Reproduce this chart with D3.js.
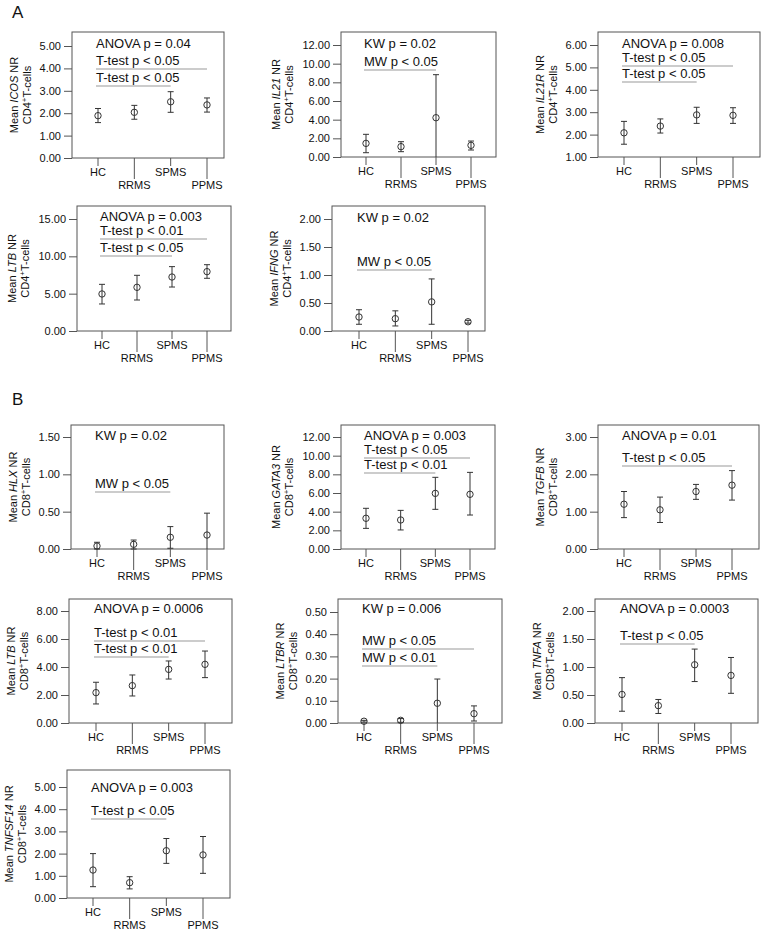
<!DOCTYPE html>
<html>
<head>
<meta charset="utf-8">
<script src="https://cdn.jsdelivr.net/npm/d3@7"></script>
<style>
body { margin: 0; background: #fff; }
text { font-family: "Liberation Sans", Arial, sans-serif; fill: #111; }
</style>
</head>
<body>
<svg id="chart" width="764" height="933"></svg>
<script>
var groups = ["HC", "RRMS", "SPMS", "PPMS"];

// means and error bar ends
var icosMean = [1.89, 2.04, 2.51, 2.37], icosLo = [1.58, 1.73, 2.04, 2.05], icosHi = [2.21, 2.35, 2.96, 2.68];
var il21Mean = [1.46, 1.11, 4.21, 1.25], il21Lo = [0.46, 0.57, -0.4, 0.75], il21Hi = [2.43, 1.64, 8.82, 1.71];
var il21rMean = [2.08, 2.38, 2.88, 2.86], il21rLo = [1.57, 2.07, 2.50, 2.50], il21rHi = [2.59, 2.70, 3.22, 3.20];
var ltb4Mean = [4.96, 5.85, 7.23, 7.95], ltb4Lo = [3.62, 4.15, 5.89, 7.06], ltb4Hi = [6.25, 7.46, 8.62, 8.88];
var ifngMean = [0.25, 0.22, 0.52, 0.165], ifngLo = [0.12, 0.09, 0.12, 0.14], ifngHi = [0.38, 0.36, 0.93, 0.19];
var hlxMean = [0.04, 0.063, 0.157, 0.187], hlxLo = [0.0, 0.0, 0.01, -0.1], hlxHi = [0.09, 0.12, 0.30, 0.48];
var gata3Mean = [3.29, 3.11, 5.96, 5.86], gata3Lo = [2.21, 2.04, 4.25, 3.64], gata3Hi = [4.36, 4.14, 7.68, 8.21];
var tgfbMean = [1.20, 1.05, 1.54, 1.71], tgfbLo = [0.84, 0.71, 1.33, 1.31], tgfbHi = [1.54, 1.39, 1.73, 2.10];
var ltb8Mean = [2.17, 2.67, 3.83, 4.19], ltb8Lo = [1.36, 1.93, 3.14, 3.24], ltb8Hi = [2.91, 3.43, 4.43, 5.14];
var ltbrMean = [0.008, 0.012, 0.089, 0.042], ltbrLo = [0.004, 0.003, -0.02, 0.009], ltbrHi = [0.012, 0.02, 0.198, 0.077];
var tnfaMean = [0.51, 0.31, 1.04, 0.85], tnfaLo = [0.21, 0.17, 0.74, 0.53], tnfaHi = [0.81, 0.42, 1.32, 1.17];
var tnfsf14Mean = [1.26, 0.69, 2.13, 1.94], tnfsf14Lo = [0.51, 0.41, 1.56, 1.11], tnfsf14Hi = [2.00, 0.96, 2.68, 2.77];

// y tick values
var icosTicks = [0, 1, 2, 3, 4, 5];
var il21Ticks = [0, 2, 4, 6, 8, 10, 12];
var il21rTicks = [1, 2, 3, 4, 5, 6];
var ltb4Ticks = [0, 5, 10, 15];
var ifngTicks = [0, 0.5, 1, 1.5, 2];
var hlxTicks = [0, 0.5, 1, 1.5];
var gata3Ticks = [0, 2, 4, 6, 8, 10, 12];
var tgfbTicks = [0, 1, 2, 3];
var ltb8Ticks = [0, 2, 4, 6, 8];
var ltbrTicks = [0, 0.1, 0.2, 0.3, 0.4, 0.5];
var tnfaTicks = [0, 0.5, 1, 1.5, 2];
var tnfsf14Ticks = [0, 1, 2, 3, 4, 5];

// test annotations: text, index of group the bar from HC reaches (null = no bar)
var icosTests = [["ANOVA p = 0.04", null], ["T-test p < 0.05", 3], ["T-test p < 0.05", 2]];
var il21Tests = [["KW p = 0.02", null], ["MW p < 0.05", 2]];
var il21rTests = [["ANOVA p = 0.008", null], ["T-test p < 0.05", 3], ["T-test p < 0.05", 2]];
var ltb4Tests = [["ANOVA p = 0.003", null], ["T-test p < 0.01", 3], ["T-test p < 0.05", 2]];
var ifngTests = [["KW p = 0.02", null], ["MW p < 0.05", 2]];
var hlxTests = [["KW p = 0.02", null], ["MW p < 0.05", 2]];
var gata3Tests = [["ANOVA p = 0.003", null], ["T-test p < 0.05", 3], ["T-test p < 0.01", 2]];
var tgfbTests = [["ANOVA p = 0.01", null], ["T-test p < 0.05", 3]];
var ltb8Tests = [["ANOVA p = 0.0006", null], ["T-test p < 0.01", 3], ["T-test p < 0.01", 2]];
var ltbrTests = [["KW p = 0.006", null], ["MW p < 0.05", 3], ["MW p < 0.01", 2]];
var tnfaTests = [["ANOVA p = 0.0003", null], ["T-test p < 0.05", 2]];
var tnfsf14Tests = [["ANOVA p = 0.003", null], ["T-test p < 0.05", 2]];

var panels = [
	{gene: "ICOS", cell: "CD4", mean: icosMean, lo: icosLo, hi: icosHi, ticks: icosTicks, tests: icosTests},
	{gene: "IL21", cell: "CD4", mean: il21Mean, lo: il21Lo, hi: il21Hi, ticks: il21Ticks, tests: il21Tests},
	{gene: "IL21R", cell: "CD4", mean: il21rMean, lo: il21rLo, hi: il21rHi, ticks: il21rTicks, tests: il21rTests},
	{gene: "LTB", cell: "CD4", mean: ltb4Mean, lo: ltb4Lo, hi: ltb4Hi, ticks: ltb4Ticks, tests: ltb4Tests},
	{gene: "IFNG", cell: "CD4", mean: ifngMean, lo: ifngLo, hi: ifngHi, ticks: ifngTicks, tests: ifngTests},
	{gene: "HLX", cell: "CD8", mean: hlxMean, lo: hlxLo, hi: hlxHi, ticks: hlxTicks, tests: hlxTests},
	{gene: "GATA3", cell: "CD8", mean: gata3Mean, lo: gata3Lo, hi: gata3Hi, ticks: gata3Ticks, tests: gata3Tests},
	{gene: "TGFB", cell: "CD8", mean: tgfbMean, lo: tgfbLo, hi: tgfbHi, ticks: tgfbTicks, tests: tgfbTests},
	{gene: "LTB", cell: "CD8", mean: ltb8Mean, lo: ltb8Lo, hi: ltb8Hi, ticks: ltb8Ticks, tests: ltb8Tests},
	{gene: "LTBR", cell: "CD8", mean: ltbrMean, lo: ltbrLo, hi: ltbrHi, ticks: ltbrTicks, tests: ltbrTests},
	{gene: "TNFA", cell: "CD8", mean: tnfaMean, lo: tnfaLo, hi: tnfaHi, ticks: tnfaTicks, tests: tnfaTests},
	{gene: "TNFSF14", cell: "CD8", mean: tnfsf14Mean, lo: tnfsf14Lo, hi: tnfsf14Hi, ticks: tnfsf14Ticks, tests: tnfsf14Tests}
];

// layout: box left, top, right, bottom, x of HC, x of PPMS, y of top tick
var boxes = [
	[72, 32, 224, 158, 98, 207, 46],
	[341, 32, 496, 157, 366, 471, 45],
	[598, 32, 760, 157, 624, 733, 45],
	[77, 206, 231, 331, 102, 207, 219],
	[332, 206, 485, 331, 359, 468, 219],
	[71, 425, 224, 549, 97, 207, 437],
	[341, 425, 495, 549, 366, 470, 437],
	[598, 425, 759, 549, 624, 732, 437],
	[69, 599, 232, 723, 96, 205, 611],
	[338, 599, 502, 723, 364, 474, 612],
	[595, 599, 758, 723, 622, 731, 611],
	[67, 770, 230, 898, 93, 203, 787]
];
// baseline offsets of the annotation rows from the box top
var rowOffsets = [
	[16, 33, 50], [16, 34], [16, 30, 46], [15, 29, 46], [16, 60], [15, 63],
	[15, 29, 44], [15, 37], [14, 38, 54], [14, 46, 63], [14, 41], [22, 45]
];

var svg = d3.select("#chart");
var axisColor = "#555";

svg.append("text").attr("x", 12).attr("y", 18).style("font-size", "17px").text("A");
svg.append("text").attr("x", 12).attr("y", 405).style("font-size", "17px").text("B");

panels.forEach(function(p, k){
	var b = boxes[k];
	var left = b[0], top = b[1], right = b[2], bottom = b[3];

	var x = d3.scalePoint().domain(groups).range([b[4], b[5]]);
	var y = d3.scaleLinear().domain([p.ticks[0], p.ticks[p.ticks.length - 1]]).range([bottom, b[6]]);
	var g = svg.append("g");

	// x ticks, alternating short/long
	groups.forEach(function(gr, i){
		var len = i % 2 === 0 ? 8 : 21;
		g.append("line")
			.attr("x1", x(gr)).attr("x2", x(gr))
			.attr("y1", bottom).attr("y2", bottom + len)
			.attr("stroke", axisColor);
		g.append("text")
			.attr("x", x(gr))
			.attr("y", bottom + (i % 2 === 0 ? 18 : 31))
			.attr("text-anchor", "middle")
			.style("font-size", "11px")
			.text(gr);
	});

	// y axis
	var ax = g.append("g")
		.attr("transform", "translate(" + left + ",0)")
		.call(d3.axisLeft(y).tickValues(p.ticks).tickFormat(d3.format(".2f")).tickSize(8).tickPadding(3));
	ax.select(".domain").remove();
	ax.selectAll(".tick line").attr("stroke", axisColor);
	ax.selectAll(".tick text").style("font-size", "11px").style("font-family", '"Liberation Sans", Arial, sans-serif').attr("fill", "#111");
	var axBox = ax.node().getBBox();

	// frame
	g.append("rect")
		.attr("x", left).attr("y", top)
		.attr("width", right - left).attr("height", bottom - top)
		.attr("fill", "none").attr("stroke", axisColor);

	// y title
	var cy = (top + bottom) / 2;
	var tx2 = left + axBox.x - 9, tx1 = tx2 - 13;
	var t1 = g.append("text")
		.attr("transform", "translate(" + tx1 + "," + cy + ") rotate(-90)")
		.attr("text-anchor", "middle")
		.style("font-size", "11px");
	t1.append("tspan").text("Mean ");
	t1.append("tspan").style("font-style", "italic").text(p.gene);
	t1.append("tspan").text(" NR");
	var t2 = g.append("text")
		.attr("transform", "translate(" + tx2 + "," + cy + ") rotate(-90)")
		.attr("text-anchor", "middle")
		.style("font-size", "11px");
	t2.append("tspan").text(p.cell);
	t2.append("tspan").attr("dy", -4).style("font-size", "8px").text("+");
	t2.append("tspan").attr("dy", 4).text("T-cells");

	// annotations
	var tx = x(groups[0]) - 2;
	p.tests.forEach(function(t, r){
		var ty = top + rowOffsets[k][r];
		g.append("text").attr("x", tx).attr("y", ty).style("font-size", "13px").text(t[0]);
		if (t[1] !== null){
			g.append("line")
				.attr("x1", tx).attr("x2", x(groups[t[1]]))
				.attr("y1", ty + 4).attr("y2", ty + 4)
				.attr("stroke", "#999");
		}
	});

	// error bars
	var ymin = y.domain()[0];
	groups.forEach(function(gr, i){
		var cx = x(gr);
		var yl = y(Math.max(p.lo[i], ymin)), yh = y(p.hi[i]);
		g.append("line").attr("x1", cx).attr("x2", cx).attr("y1", yl).attr("y2", yh).attr("stroke", "#333");
		g.append("line").attr("x1", cx - 3).attr("x2", cx + 3).attr("y1", yh).attr("y2", yh).attr("stroke", "#333");
		if (p.lo[i] >= ymin){
			g.append("line").attr("x1", cx - 3).attr("x2", cx + 3).attr("y1", yl).attr("y2", yl).attr("stroke", "#333");
		}
		g.append("circle").attr("cx", cx).attr("cy", y(p.mean[i])).attr("r", 3.2)
			.attr("fill", "none").attr("stroke", "#333");
	});
});
</script>
</body>
</html>
